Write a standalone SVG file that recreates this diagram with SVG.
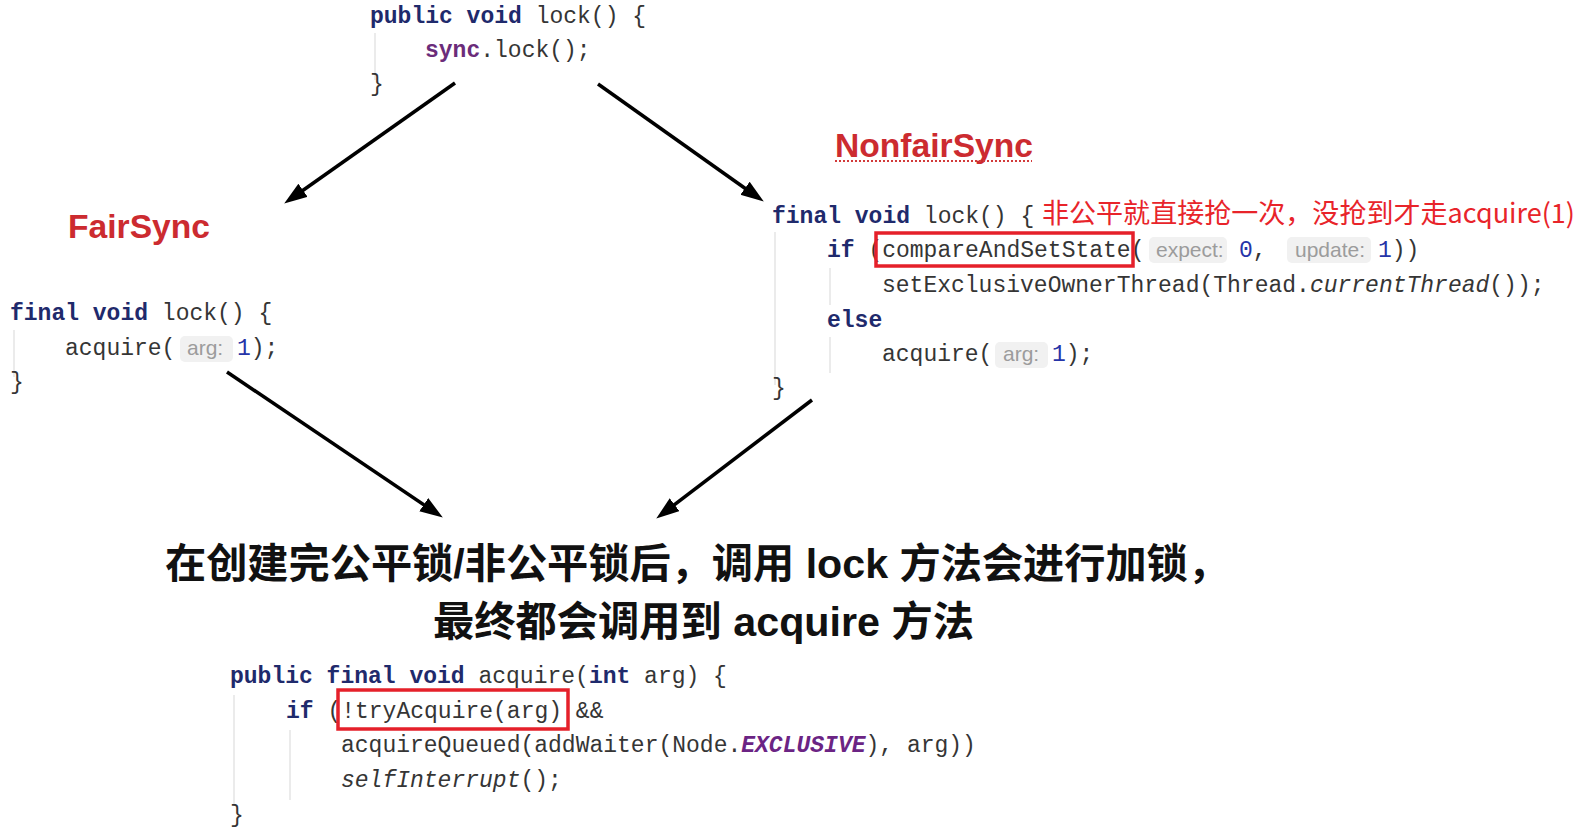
<svg xmlns="http://www.w3.org/2000/svg" width="1583" height="837" viewBox="0 0 1583 837">
<style>
.code { font-family: "Liberation Mono", "DejaVu Sans Mono", monospace; font-size: 23px; fill: #353535; }
.kw { font-weight: bold; fill: #1f2a6c; }
.num { fill: #2634a8; }
.fld { font-weight: bold; fill: #6b2c7a; }
.it { font-style: italic; }
.cst { font-weight: bold; font-style: italic; fill: #6b2484; }
.hint { font-family: "Liberation Sans", Arial, sans-serif; font-size: 21px; fill: #9c9c9c; }
.hintbg { fill: #f1f1f1; }
.guide { stroke: #e4e4e4; stroke-width: 1.5; }
.title { font-family: "Liberation Sans", Arial, sans-serif; font-weight: bold; font-size: 33px; fill: #cc2b30; }
.redbox { fill: none; stroke: #e5202a; stroke-width: 3.5; }
.note { font-family: "Noto Sans CJK SC", sans-serif; font-size: 27px; fill: #e8242a; }
.caption { font-family: "Liberation Sans", "Noto Sans CJK SC", sans-serif; font-weight: bold; font-size: 41px; fill: #111111; }
.arrow { stroke: #000000; stroke-width: 3.5; fill: none; marker-end: url(#head); }
</style>
<defs>
<marker id="head" markerUnits="userSpaceOnUse" markerWidth="24" markerHeight="18" refX="12" refY="8" orient="auto">
<path d="M0,0 L23,8 L0,16 z" fill="#000000"/>
</marker>
</defs>
<rect width="1583" height="837" fill="#ffffff"/>

<g id="node-lock">
<line class="guide" x1="375" y1="33" x2="375" y2="80"/>
<text class="code" x="370" y="23"><tspan class="kw">public void</tspan> lock() {</text>
<text class="code" x="425" y="57"><tspan class="fld">sync</tspan>.lock();</text>
<text class="code" x="370" y="91">}</text>
</g>

<g id="node-fairsync">
<text class="title" x="68" y="238" textLength="142" lengthAdjust="spacingAndGlyphs">FairSync</text>
<line class="guide" x1="14" y1="330" x2="14" y2="377"/>
<text class="code" x="10" y="320"><tspan class="kw">final void</tspan> lock() {</text>
<text class="code" x="65" y="355">acquire(</text>
<rect class="hintbg" x="180" y="336" width="53" height="26" rx="5"/>
<text class="hint" x="187" y="355">arg:</text>
<text class="code" x="237" y="355"><tspan class="num">1</tspan>);</text>
<text class="code" x="10" y="389">}</text>
</g>

<g id="node-nonfairsync">
<text class="title" x="835" y="157" textLength="198" lengthAdjust="spacingAndGlyphs">NonfairSync</text>
<line x1="835" y1="161" x2="1032" y2="161" stroke="#d23a3a" stroke-width="2" stroke-dasharray="2 2"/>
<line class="guide" x1="775" y1="232" x2="775" y2="385"/>
<line class="guide" x1="830" y1="268" x2="830" y2="305"/>
<line class="guide" x1="830" y1="337" x2="830" y2="373"/>
<text class="code" x="772" y="223"><tspan class="kw">final void</tspan> lock() {</text>
<text class="code" x="827" y="257"><tspan class="kw">if</tspan> (compareAndSetState(</text>
<rect class="hintbg" x="1149" y="237" width="78" height="26" rx="5"/>
<text class="hint" x="1156" y="257">expect:</text>
<text class="code" x="1239" y="257"><tspan class="num">0</tspan>,</text>
<rect class="hintbg" x="1287" y="237" width="84" height="26" rx="5"/>
<text class="hint" x="1295" y="257">update:</text>
<text class="code" x="1378" y="257"><tspan class="num">1</tspan>))</text>
<rect class="redbox" x="876" y="233" width="257" height="33"/>
<text class="code" x="882" y="292">setExclusiveOwnerThread(Thread.<tspan class="it">currentThread</tspan>());</text>
<text class="code" x="827" y="327"><tspan class="kw">else</tspan></text>
<text class="code" x="882" y="361">acquire(</text>
<rect class="hintbg" x="995" y="342" width="53" height="26" rx="5"/>
<text class="hint" x="1003" y="361">arg:</text>
<text class="code" x="1052" y="361"><tspan class="num">1</tspan>);</text>
<text class="code" x="772" y="395">}</text>
<text class="note" x="1042" y="223" textLength="533" lengthAdjust="spacingAndGlyphs">非公平就直接抢一次，没抢到才走acquire(1)</text>
</g>

<g id="node-caption">
<text class="caption" x="165" y="578" textLength="1064" lengthAdjust="spacingAndGlyphs">在创建完公平锁/非公平锁后，调用 lock 方法会进行加锁，</text>
<text class="caption" x="433" y="636" textLength="541" lengthAdjust="spacingAndGlyphs">最终都会调用到 acquire 方法</text>
</g>

<g id="node-acquire">
<line class="guide" x1="234" y1="695" x2="234" y2="805"/>
<line class="guide" x1="290" y1="730" x2="290" y2="800"/>
<text class="code" x="230" y="683"><tspan class="kw">public final void</tspan> acquire(<tspan class="kw">int</tspan> arg) {</text>
<text class="code" x="286" y="718"><tspan class="kw">if</tspan> (!tryAcquire(arg) &amp;&amp;</text>
<text class="code" x="341" y="752">acquireQueued(addWaiter(Node.<tspan class="cst">EXCLUSIVE</tspan>), arg))</text>
<text class="code" x="341" y="787"><tspan class="it">selfInterrupt</tspan>();</text>
<text class="code" x="230" y="822">}</text>
<rect class="redbox" x="338" y="690" width="230" height="39"/>
</g>

<g id="connectors">
<line class="arrow" x1="455" y1="83" x2="293.2" y2="197.2"/>
<line class="arrow" x1="598" y1="84" x2="754.8" y2="195.2"/>
<line class="arrow" x1="227" y1="372" x2="433.7" y2="511.4"/>
<line class="arrow" x1="812" y1="400" x2="665" y2="511.9"/>
</g>
</svg>
